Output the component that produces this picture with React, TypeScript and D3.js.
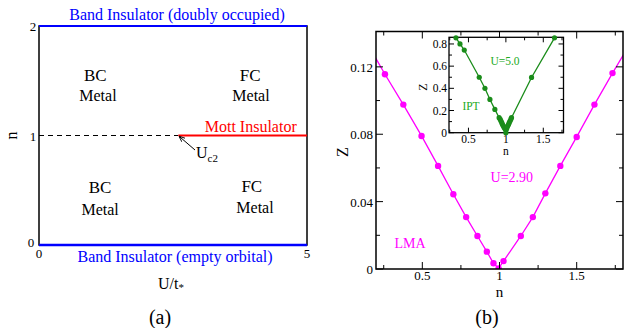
import * as d3 from 'd3';
import React from 'react';

// panel (a): phase diagram
const uMax = 5;
const nTicksA = [0, 1, 2];
const uTicksA = [0, 5];
const uc2 = 2.6;

// panel (b): LMA, U=2.90
const lmaN = [0.14, 0.258, 0.377, 0.495, 0.602, 0.701, 0.784, 0.857, 0.918, 0.961, 0.994, 1.026, 1.138, 1.216, 1.297, 1.394, 1.5, 1.615, 1.732, 1.86];
const lmaZ = [0.1345, 0.1156, 0.0976, 0.079, 0.0612, 0.0444, 0.0308, 0.0196, 0.0103, 0.0034, 0.0004, 0.0047, 0.0196, 0.0308, 0.0449, 0.0612, 0.0784, 0.0976, 0.1163, 0.136];
const bMajorX = [0.5, 1, 1.5];
const bMinorX = [0.25, 0.75, 1.25, 1.75];
const bMajorY = [0, 0.04, 0.08, 0.12];
const bMinorY = [0.02, 0.06, 0.1];

// inset: IPT, U=5.0
const iptN = [0.333, 0.387, 0.444, 0.644, 0.72, 0.787, 0.853, 0.91, 0.925, 0.935, 0.945, 0.955, 0.965, 0.975, 0.985, 0.993, 1.0, 1.007, 1.015, 1.025, 1.035, 1.045, 1.055, 1.065, 1.075, 1.343, 1.65];
const iptZ = [0.855, 0.8, 0.745, 0.5, 0.4, 0.3, 0.21, 0.135, 0.12, 0.105, 0.09, 0.075, 0.062, 0.05, 0.04, 0.03, 0.0, 0.03, 0.045, 0.06, 0.075, 0.09, 0.105, 0.12, 0.135, 0.498, 0.855];
const iMajorX = [0.5, 1, 1.5];
const iMinorX = [0.25, 0.75, 1.25, 1.75];
const iMajorY = [0, 0.2, 0.4, 0.6, 0.8];
const iMinorY = [0.1, 0.3, 0.5, 0.7];

const serif = "'Liberation Serif', 'DejaVu Serif', serif";
const magenta = '#ff00ff';
const green = '#1a8c1a';
const blue = '#0000ff';

export default function App() {
  const xA = d3.scaleLinear().domain([0, uMax]).range([39, 307]);
  const yA = d3.scaleLinear().domain([0, 2]).range([245, 26]);

  const xB = d3.scaleLinear().domain([0.2, 1.8]).range([376, 623]);
  const yB = d3.scaleLinear().domain([0, 0.141]).range([269, 31.5]);

  const xI = d3.scaleLinear().domain([0.24, 1.77]).range([449, 563.5]);
  const yI = d3.scaleLinear().domain([0, 0.86]).range([132.7, 37.3]);

  const lma = lmaN.map((n, i) => [n, lmaZ[i]] as [number, number]);
  const ipt = iptN.map((n, i) => [n, iptZ[i]] as [number, number]);

  const lmaLine = d3.line<[number, number]>().x(d => xB(d[0])).y(d => yB(d[1]));
  const iptLine = d3.line<[number, number]>().x(d => xI(d[0])).y(d => yI(d[1]));

  const [bx0, bx1] = xB.range();
  const [by0, by1] = yB.range();
  const [ix0, ix1] = xI.range();
  const [iy0, iy1] = yI.range();

  return (
    <svg width={624} height={328} style={{ position: 'absolute', left: 0, top: 0, fontFamily: serif }}>
      <rect width={624} height={328} fill="#fff" />

      {/* ---------- panel (a) ---------- */}
      <rect x={xA(0)} y={yA(2)} width={xA(uMax) - xA(0)} height={yA(0) - yA(2)} fill="none" stroke="#000" strokeWidth={1.5} />
      <line x1={xA(0)} x2={xA(uMax)} y1={yA(2)} y2={yA(2)} stroke={blue} strokeWidth={2} />
      <line x1={xA(0)} x2={xA(uMax)} y1={yA(0)} y2={yA(0)} stroke={blue} strokeWidth={2.5} />
      <line x1={xA(0)} x2={xA(uc2)} y1={yA(1)} y2={yA(1)} stroke="#000" strokeWidth={1} strokeDasharray="5,4" />
      <line x1={xA(uc2)} x2={xA(uMax)} y1={yA(1)} y2={yA(1)} stroke="#ff0000" strokeWidth={1.8} />

      {nTicksA.map(t => (
        <text key={'na' + t} x={t === 0 ? 31 : 33} y={yA(t) + (t === 0 ? 2 : 5)} fontSize={13} textAnchor="middle">{t}</text>
      ))}
      {uTicksA.map(t => (
        <text key={'ua' + t} x={xA(t)} y={258} fontSize={13} textAnchor="middle">{t}</text>
      ))}

      <text x={177} y={20} fontSize={16} fill={blue} textAnchor="middle">Band Insulator (doubly occupied)</text>
      <text x={175} y={262} fontSize={16} fill={blue} textAnchor="middle">Band Insulator (empty orbital)</text>
      <text x={xA(3.95)} y={yA(1) - 4} fontSize={16} fill="#ff0000" textAnchor="middle">Mott Insulator</text>

      <text x={xA(1.05)} y={yA(1.55) + 6} fontSize={17} textAnchor="middle">BC</text>
      <text x={xA(1.1)} y={yA(1.357) + 5} fontSize={16} textAnchor="middle">Metal</text>
      <text x={xA(3.94)} y={yA(1.55) + 6} fontSize={17} textAnchor="middle">FC</text>
      <text x={xA(3.955)} y={yA(1.357) + 5} fontSize={16} textAnchor="middle">Metal</text>
      <text x={xA(1.14)} y={yA(0.528) + 6} fontSize={17} textAnchor="middle">BC</text>
      <text x={xA(1.14)} y={yA(0.319) + 5} fontSize={16} textAnchor="middle">Metal</text>
      <text x={xA(3.97)} y={yA(0.538) + 6} fontSize={17} textAnchor="middle">FC</text>
      <text x={xA(4.03)} y={yA(0.337) + 5} fontSize={16} textAnchor="middle">Metal</text>

      <defs>
        <marker id="arr" viewBox="0 0 10 10" refX={9} refY={5} markerWidth={6} markerHeight={6} orient="auto">
          <path d="M0,1 L10,5 L0,9" fill="none" stroke="#000" strokeWidth={1.5} />
        </marker>
        <clipPath id="clipB">
          <rect x={bx0} y={by1} width={bx1 - bx0} height={by0 - by1} />
        </clipPath>
      </defs>
      <line x1={195} y1={150} x2={xA(uc2) + 1} y2={yA(1) + 1} stroke="#000" strokeWidth={1} markerEnd="url(#arr)" />
      <text x={196} y={158} fontSize={16}>U<tspan fontSize={11} dy={4}>c2</tspan></text>

      <text transform={`translate(17,${yA(1)}) rotate(-90)`} fontSize={16} textAnchor="middle">n</text>
      <text x={158} y={289} fontSize={16}>U/t<tspan fontSize={11} dy={2}>*</tspan></text>
      <text x={160} y={324} fontSize={20} textAnchor="middle">(a)</text>

      {/* ---------- panel (b) ---------- */}
      <path d={lmaLine(lma) ?? ''} fill="none" stroke={magenta} strokeWidth={1.3} clipPath="url(#clipB)" />
      <g clipPath="url(#clipB)">
        {lma.map((d, i) => (
          <circle key={'l' + i} cx={xB(d[0])} cy={yB(d[1])} r={3.2} fill={magenta} />
        ))}
      </g>
      <rect x={bx0} y={by1} width={bx1 - bx0} height={by0 - by1} fill="none" stroke="#000" strokeWidth={1.5} />
      {bMajorX.map(t => (
        <g key={'bx' + t}>
          <line x1={xB(t)} x2={xB(t)} y1={by0} y2={by0 - 7} stroke="#000" />
          <line x1={xB(t)} x2={xB(t)} y1={by1} y2={by1 + 7} stroke="#000" />
          <text x={xB(t)} y={by0 + 11} fontSize={13} textAnchor="middle">{d3.format('')(t)}</text>
        </g>
      ))}
      {bMinorX.map(t => (
        <g key={'bmx' + t}>
          <line x1={xB(t)} x2={xB(t)} y1={by0} y2={by0 - 4} stroke="#000" />
          <line x1={xB(t)} x2={xB(t)} y1={by1} y2={by1 + 4} stroke="#000" />
        </g>
      ))}
      {bMajorY.map(t => (
        <g key={'by' + t}>
          <line x1={bx0} x2={bx0 + 7} y1={yB(t)} y2={yB(t)} stroke="#000" />
          <line x1={bx1} x2={bx1 - 7} y1={yB(t)} y2={yB(t)} stroke="#000" />
          <text x={bx0 - 3} y={yB(t) + 5} fontSize={13} textAnchor="end">{t === 0 ? '0' : d3.format('.2f')(t)}</text>
        </g>
      ))}
      {bMinorY.map(t => (
        <g key={'bmy' + t}>
          <line x1={bx0} x2={bx0 + 4} y1={yB(t)} y2={yB(t)} stroke="#000" />
          <line x1={bx1} x2={bx1 - 4} y1={yB(t)} y2={yB(t)} stroke="#000" />
        </g>
      ))}
      <text x={xB(1)} y={297} fontSize={15} textAnchor="middle">n</text>
      <text transform={`translate(348,152) rotate(-90)`} fontSize={16} textAnchor="middle">Z</text>
      <text x={xB(1.08)} y={182} fontSize={14} fill={magenta} textAnchor="middle">U=2.90</text>
      <text x={410} y={248} fontSize={14} fill={magenta} textAnchor="middle">LMA</text>
      <text x={487} y={324} fontSize={20} textAnchor="middle">(b)</text>

      {/* ---------- inset ---------- */}
      <rect x={ix0} y={iy1} width={ix1 - ix0} height={iy0 - iy1} fill="#fff" stroke="#000" strokeWidth={1.3} />
      {iMajorX.map(t => (
        <g key={'ix' + t}>
          <line x1={xI(t)} x2={xI(t)} y1={iy0} y2={iy0 - 5} stroke="#000" />
          <line x1={xI(t)} x2={xI(t)} y1={iy1} y2={iy1 + 5} stroke="#000" />
          <text x={xI(t)} y={iy0 + 10} fontSize={11.5} textAnchor="middle">{d3.format('')(t)}</text>
        </g>
      ))}
      {iMinorX.filter(t => t > 0.24 && t < 1.77).map(t => (
        <g key={'imx' + t}>
          <line x1={xI(t)} x2={xI(t)} y1={iy0} y2={iy0 - 3} stroke="#000" />
          <line x1={xI(t)} x2={xI(t)} y1={iy1} y2={iy1 + 3} stroke="#000" />
        </g>
      ))}
      {iMajorY.map(t => (
        <g key={'iy' + t}>
          <line x1={ix0} x2={ix0 + 5} y1={yI(t)} y2={yI(t)} stroke="#000" />
          <line x1={ix1} x2={ix1 - 5} y1={yI(t)} y2={yI(t)} stroke="#000" />
          <text x={ix0 - 2} y={yI(t) + 4} fontSize={11.5} textAnchor="end">{t === 0 ? '0' : d3.format('.1f')(t)}</text>
        </g>
      ))}
      {iMinorY.map(t => (
        <g key={'imy' + t}>
          <line x1={ix0} x2={ix0 + 3} y1={yI(t)} y2={yI(t)} stroke="#000" />
          <line x1={ix1} x2={ix1 - 3} y1={yI(t)} y2={yI(t)} stroke="#000" />
        </g>
      ))}
      <path d={iptLine(ipt) ?? ''} fill="none" stroke={green} strokeWidth={1.3} />
      {ipt.map((d, i) => (
        <circle key={'i' + i} cx={xI(d[0])} cy={yI(d[1])} r={2.6} fill={green} />
      ))}
      <text x={xI(1)} y={155} fontSize={11.5} textAnchor="middle">n</text>
      <text transform={`translate(427,87) rotate(-90)`} fontSize={12} textAnchor="middle">Z</text>
      <text x={505} y={65} fontSize={11.5} fill="#22aa22" textAnchor="middle">U=5.0</text>
      <text x={471} y={110} fontSize={11.5} fill="#22aa22" textAnchor="middle">IPT</text>
    </svg>
  );
}
